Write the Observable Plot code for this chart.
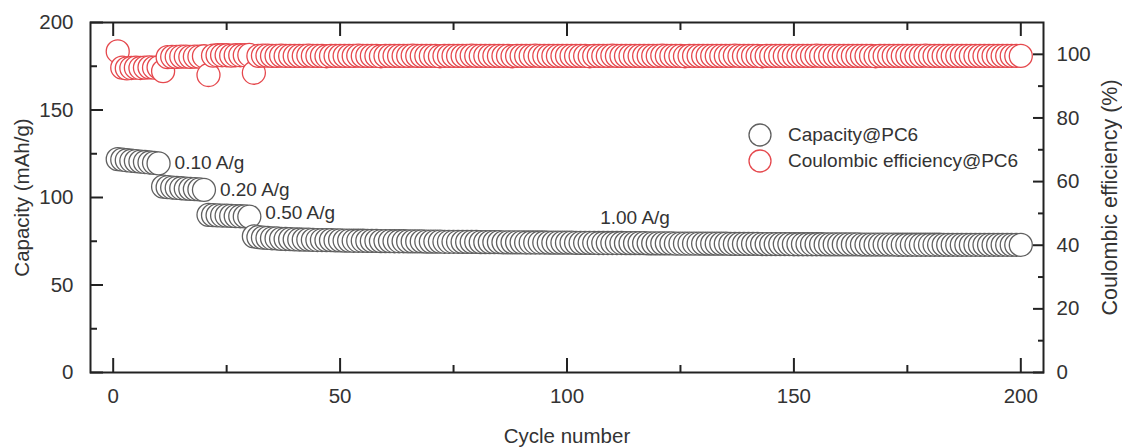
<!DOCTYPE html>
<html>
<head>
<meta charset="utf-8">
<script src="https://cdn.jsdelivr.net/npm/d3@7"></script>
<script src="https://cdn.jsdelivr.net/npm/@observablehq/plot@0.6"></script>
<style>
  html, body { margin: 0; padding: 0; background: #fff; }
  #wrap { position: relative; width: 1122px; height: 448px; font-family: "Liberation Sans", Arial, sans-serif; }
  #legend { position: absolute; left: 748px; top: 122px; font-size: 19px; color: #333; }
  #legend .row { display: flex; align-items: center; height: 26px; }
  #legend svg { width: 24px; height: 24px; margin-right: 16px; overflow: visible; }
</style>
</head>
<body>
<div id="wrap"></div>
<script>
// ---- data ----
const cycles = d3.range(1, 201);

const capacity = [
  121.9,121.6,121.3,121.0,120.8,120.5,120.3,120.0,119.8,119.5,
  106.2,105.9,105.7,105.5,105.3,105.1,104.9,104.8,104.6,104.4,
  90.1,89.9,89.8,89.7,89.6,89.5,89.4,89.3,89.2,89.1,
  77.8,77.4,77.1,76.9,76.7,76.6,76.4,76.3,76.2,76.1,
  76.0,75.9,75.9,75.8,75.7,75.7,75.6,75.6,75.5,75.5,
  75.4,75.4,75.3,75.3,75.3,75.2,75.2,75.2,75.1,75.1,
  75.1,75.0,75.0,75.0,74.9,74.9,74.9,74.9,74.8,74.8,
  74.8,74.8,74.7,74.7,74.7,74.7,74.6,74.6,74.6,74.6,
  74.5,74.5,74.5,74.5,74.5,74.4,74.4,74.4,74.4,74.4,
  74.3,74.3,74.3,74.3,74.3,74.2,74.2,74.2,74.2,74.2,
  74.2,74.1,74.1,74.1,74.1,74.1,74.0,74.0,74.0,74.0,
  74.0,74.0,73.9,73.9,73.9,73.9,73.9,73.8,73.8,73.8,
  73.8,73.8,73.8,73.7,73.7,73.7,73.7,73.7,73.7,73.6,
  73.6,73.6,73.6,73.6,73.6,73.5,73.5,73.5,73.5,73.5,
  73.5,73.5,73.4,73.4,73.4,73.4,73.4,73.4,73.4,73.3,
  73.3,73.3,73.3,73.3,73.3,73.3,73.2,73.2,73.2,73.2,
  73.2,73.2,73.2,73.2,73.1,73.1,73.1,73.1,73.1,73.1,
  73.1,73.1,73.0,73.0,73.0,73.0,73.0,73.0,73.0,73.0,
  73.0,73.0,72.9,72.9,72.9,72.9,72.9,72.9,72.9,72.9,
  72.9,72.9,72.9,72.9,72.9,72.9,72.9,72.9,72.9,72.9
];

const coulombicEfficiency = [
  100.9,95.8,95.6,95.7,95.8,95.7,95.8,95.9,95.8,95.9,
  94.7,99.1,99.2,99.2,99.3,99.3,99.2,99.3,99.3,99.4,
  93.5,99.6,99.7,99.7,99.7,99.6,99.7,99.7,99.7,99.8,
  94.2,99.5,99.6,99.6,99.5,99.5,99.6,99.5,99.5,99.5,
  99.5,99.5,99.6,99.5,99.5,99.5,99.4,99.5,99.5,99.5,
  99.5,99.5,99.5,99.6,99.5,99.5,99.5,99.5,99.4,99.5,
  99.5,99.5,99.5,99.5,99.5,99.6,99.5,99.5,99.5,99.5,
  99.5,99.4,99.5,99.5,99.5,99.5,99.5,99.5,99.6,99.5,
  99.5,99.5,99.5,99.5,99.5,99.5,99.5,99.4,99.5,99.5,
  99.5,99.5,99.6,99.5,99.5,99.5,99.5,99.5,99.5,99.5,
  99.5,99.5,99.5,99.5,99.4,99.5,99.5,99.5,99.5,99.6,
  99.5,99.5,99.5,99.5,99.5,99.5,99.5,99.5,99.5,99.5,
  99.6,99.5,99.5,99.5,99.5,99.4,99.5,99.5,99.5,99.5,
  99.5,99.5,99.5,99.5,99.5,99.5,99.6,99.5,99.5,99.5,
  99.5,99.5,99.4,99.5,99.5,99.5,99.5,99.5,99.5,99.5,
  99.5,99.5,99.5,99.5,99.6,99.5,99.5,99.5,99.5,99.5,
  99.5,99.5,99.5,99.5,99.5,99.5,99.5,99.4,99.5,99.5,
  99.5,99.5,99.5,99.5,99.5,99.5,99.5,99.5,99.6,99.5,
  99.5,99.5,99.5,99.5,99.5,99.5,99.5,99.5,99.5,99.5,
  99.5,99.5,99.5,99.5,99.5,99.5,99.5,99.5,99.5,99.5
];

const xMajorTicks = [0, 50, 100, 150, 200];
const xMinorTicks = [25, 75, 125, 175];
const capMajorTicks = [0, 50, 100, 150, 200];
const capMinorTicks = [25, 75, 125, 175];
const ceMajorTicks = [0, 20, 40, 60, 80, 100];
const ceMinorTicks = [10, 30, 50, 70, 90];

const rateLabels = ["0.10 A/g", "0.20 A/g", "0.50 A/g", "1.00 A/g"];
const rateLabelCycle = [10, 20, 30, 115];
const rateLabelCapacity = [119.5, 104.4, 91.0, 88.3];

const seriesNames = ["Capacity@PC6", "Coulombic efficiency@PC6"];
const seriesColors = ["#606060", "#e5484d"];

// ---- build ----
const capMax = 200, ceMax = 110;
const ceToCap = v => v * capMax / ceMax;
const capToCe = v => v * ceMax / capMax;

const capRows = cycles.map((c, i) => ({cycle: c, value: capacity[i]}));
const ceRows = cycles.map((c, i) => ({cycle: c, value: ceToCap(coulombicEfficiency[i])}));
const labelRows = rateLabels.map((t, i) => ({text: t, cycle: rateLabelCycle[i], value: rateLabelCapacity[i]}));

const axisColor = "#222";
const textColor = "#333";
const tickFont = 18;

const chart = Plot.plot({
  width: 1122,
  height: 448,
  marginLeft: 90,
  marginRight: 79,
  marginTop: 22,
  marginBottom: 76,
  style: {fontFamily: "'Liberation Sans', Arial, sans-serif", color: textColor, background: "white"},
  x: {domain: [-5, 205]},
  y: {domain: [0, capMax]},
  marks: [
    // data
    Plot.dot(capRows, {x: "cycle", y: "value", r: 11.5, fill: "white", stroke: seriesColors[0], strokeWidth: 1.3}),
    Plot.dot(ceRows, {x: "cycle", y: "value", r: 11.5, fill: "white", stroke: seriesColors[1], strokeWidth: 1.3}),
    Plot.text(labelRows.slice(0, 3), {x: "cycle", y: "value", text: "text", dx: 16, textAnchor: "start", fontSize: 19, fill: textColor}),
    Plot.text(labelRows.slice(3), {x: "cycle", y: "value", text: "text", textAnchor: "middle", fontSize: 19, fill: textColor}),
    // frame
    Plot.frame({stroke: axisColor, strokeWidth: 2}),
    // bottom axis
    Plot.axisX({anchor: "bottom", ticks: xMajorTicks, tickSize: 0, tickPadding: 16, fontSize: tickFont, fill: textColor,
      label: "Cycle number", labelAnchor: "center", labelOffset: 70, labelArrow: "none"}),
    Plot.axisX({anchor: "bottom", ticks: xMajorTicks, tickSize: -14, fill: "none", label: null, stroke: axisColor, strokeWidth: 2}),
    Plot.axisX({anchor: "bottom", ticks: xMinorTicks, tickSize: -7, fill: "none", label: null, stroke: axisColor, strokeWidth: 2}),
    // top ticks
    Plot.axisX({anchor: "top", ticks: xMajorTicks, tickSize: -13, fill: "none", label: null, stroke: axisColor, strokeWidth: 2}),
    Plot.axisX({anchor: "top", ticks: xMinorTicks, tickSize: -7, fill: "none", label: null, stroke: axisColor, strokeWidth: 2}),
    // left axis
    Plot.axisY({anchor: "left", ticks: capMajorTicks, tickSize: 0, tickPadding: 17, fontSize: tickFont, fill: textColor,
      label: "Capacity (mAh/g)", labelAnchor: "center", labelOffset: 76, labelArrow: "none"}),
    Plot.axisY({anchor: "left", ticks: capMajorTicks, tickSize: -13, fill: "none", label: null, stroke: axisColor, strokeWidth: 2}),
    Plot.axisY({anchor: "left", ticks: capMinorTicks, tickSize: -7, fill: "none", label: null, stroke: axisColor, strokeWidth: 2}),
    // right axis (Coulombic efficiency)
    Plot.axisY({anchor: "right", ticks: ceMajorTicks.map(ceToCap), tickFormat: d => String(Math.round(capToCe(d))),
      tickSize: 0, tickPadding: 13, fontSize: tickFont, fill: textColor,
      label: "Coulombic efficiency (%)", labelAnchor: "center", labelOffset: 73, labelArrow: "none"}),
    Plot.axisY({anchor: "right", ticks: ceMajorTicks.map(ceToCap), tickSize: -11, fill: "none", label: null, stroke: axisColor, strokeWidth: 2}),
    Plot.axisY({anchor: "right", ticks: ceMinorTicks.map(ceToCap), tickSize: -6, fill: "none", label: null, stroke: axisColor, strokeWidth: 2})
  ]
});

const wrap = document.getElementById("wrap");
wrap.appendChild(chart);
d3.select(chart).selectAll("[aria-label$='axis label'] text, g[aria-label$='label'] text").attr("font-size", 20.5);
d3.select(chart).selectAll("text").filter(function() { return this.textContent === "Coulombic efficiency (%)"; }).attr("font-size", 21.5);

// legend
const legend = document.createElement("div");
legend.id = "legend";
seriesNames.forEach((name, i) => {
  const row = document.createElement("div");
  row.className = "row";
  row.innerHTML = `<svg viewBox="-12 -12 24 24"><circle r="11" fill="white" stroke="${seriesColors[i]}" stroke-width="1.3"></circle></svg><span>${name}</span>`;
  legend.appendChild(row);
});
wrap.appendChild(legend);
</script>
</body>
</html>
